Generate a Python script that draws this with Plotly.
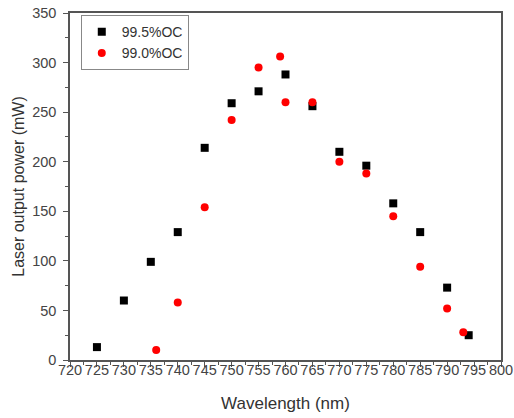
import plotly.graph_objects as go

wl_995 = [725, 730, 735, 740, 745, 750, 755, 760, 765, 770, 775, 780, 785, 790, 794]
p_995 = [13, 60, 99, 129, 214, 259, 271, 288, 256, 210, 196, 158, 129, 73, 25]
wl_990 = [736, 740, 745, 750, 755, 759, 760, 765, 770, 775, 780, 785, 790, 793]
p_990 = [10, 58, 154, 242, 295, 306, 260, 260, 200, 188, 145, 94, 52, 28]

FONT = "Arial, Liberation Sans, sans-serif"
fig = go.Figure()
fig.add_trace(go.Scatter(x=wl_995, y=p_995, mode="markers", name="99.5%OC",
                         marker=dict(symbol="square", size=8, color="black")))
fig.add_trace(go.Scatter(x=wl_990, y=p_990, mode="markers", name="99.0%OC",
                         marker=dict(symbol="circle", size=8, color="red")))

axis_common = dict(showline=True, linecolor="#555", linewidth=1.5, mirror=True,
                   showgrid=False, zeroline=False, ticks="outside", ticklen=5,
                   tickcolor="#555", automargin=False, ticklabeloverflow="allow",
                   tickfont=dict(family=FONT, size=14.5, color="#444"))
fig.update_xaxes(range=[720, 800], tickmode="linear", tick0=720, dtick=5,
                 minor=dict(ticks="outside", ticklen=3, dtick=2.5, tickcolor="#555"),
                 ticklabelstandoff=-9,
                 title=dict(text="Wavelength (nm)", font=dict(family=FONT, size=17, color="#333"), standoff=20),
                 **axis_common)
fig.update_yaxes(range=[0, 350], tickmode="linear", tick0=0, dtick=50,
                 minor=dict(ticks="outside", ticklen=3, dtick=25, tickcolor="#555"),
                 ticklabelstandoff=4,
                 title=dict(text="Laser output power (mW)", font=dict(family=FONT, size=16, color="#333"), standoff=4),
                 **axis_common)
fig.update_layout(width=514, height=418, margin=dict(l=70, r=13, t=13, b=58),
                  plot_bgcolor="white", paper_bgcolor="white",
                  legend=dict(x=0.025, y=0.994, xanchor="left", yanchor="top",
                              bordercolor="#888", borderwidth=1, bgcolor="white",
                              font=dict(family=FONT, size=14, color="#333"),
                              tracegroupgap=0))
fig.write_html("out.html", config={"displayModeBar": False},
               post_script="document.body.style.margin='0';")
